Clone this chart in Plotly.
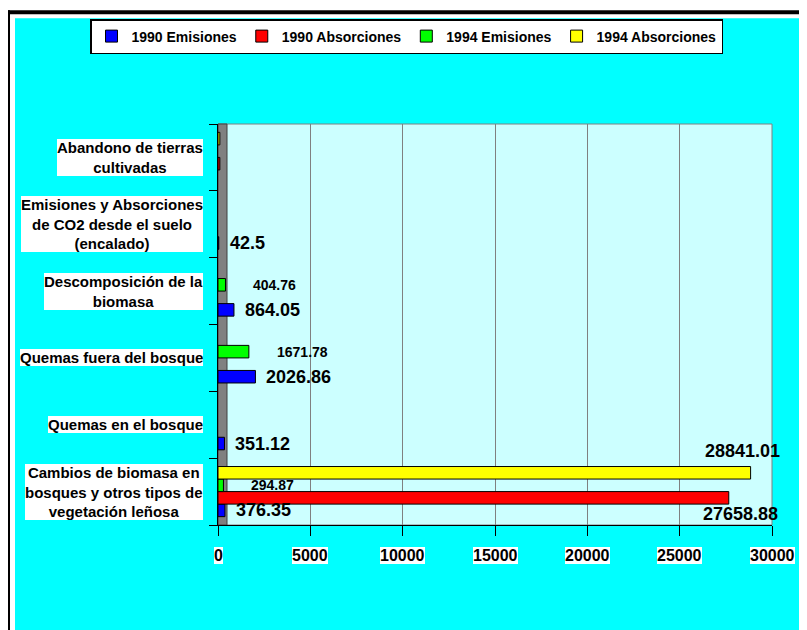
import plotly.graph_objects as go

# ---------------- data ----------------
categories = [
    "Cambios de biomasa en<br>bosques y otros tipos de<br>vegetación leñosa",
    "Quemas en el bosque",
    "Quemas fuera del bosque",
    "Descomposición de la<br>biomasa",
    "Emisiones y Absorciones<br>de CO2 desde el suelo<br>(encalado)",
    "Abandono de tierras<br>cultivadas",
]
series_names = ["1990 Emisiones", "1990 Absorciones", "1994 Emisiones", "1994 Absorciones"]
emis_1990 = [376.35, 351.12, 2026.86, 864.05, 42.5, None]
abs_1990 = [27658.88, None, None, None, None, 100]
emis_1994 = [294.87, None, 1671.78, 404.76, None, None]
abs_1994 = [28841.01, None, None, None, None, 100]
labelled = [True, True, True, True, True, False]
x_ticks = [0, 5000, 10000, 15000, 20000, 25000, 30000]

# ---------------- styling ----------------
W, H = 807, 630
OFF = 8  # page body margin: page pixel = figure pixel + OFF
# target plot area in page pixels
PL, PR, PT, PB = 218, 772, 123, 525
L, R, T, B = PL - OFF, PR - OFF, PT - OFF, PB - OFF
FONT = "Liberation Sans, Arial, sans-serif"
colors = ["#0000FF", "#FF0000", "#00FF00", "#FFFF00"]
label_style = [
    dict(size=18, xanchor="left", xshift=9, yshift=0),
    dict(size=18, xanchor="center", xshift=12, yshift=-16),
    dict(size=14, xanchor="left", xshift=26, yshift=0),
    dict(size=18, xanchor="center", xshift=-8, yshift=22),
]
BARGAP = 0.25


def xp(px):
    """page pixel x -> paper fraction"""
    return (px - OFF - L) / (R - L)


def yp(py):
    """page pixel y -> paper fraction"""
    return (B - (py - OFF)) / (B - T)


series_values = [emis_1990, abs_1990, emis_1994, abs_1994]

fig = go.Figure()
for name, vals, col in zip(series_names, series_values, colors):
    fig.add_trace(go.Bar(
        name=name, y=categories, x=vals, orientation="h",
        marker=dict(color=col, line=dict(color="black", width=1)),
        hoverinfo="x+name",
    ))

annotations = []
slot = (1 - BARGAP) / len(series_values)
for k, vals in enumerate(series_values):
    st = label_style[k]
    for i, v in enumerate(vals):
        if v is None or not labelled[i]:
            continue
        annotations.append(dict(
            x=v, y=i + (k - 1.5) * slot, xref="x", yref="y",
            text=str(v), showarrow=False,
            xanchor=st["xanchor"], yanchor="middle",
            xshift=st["xshift"], yshift=st["yshift"],
            font=dict(family=FONT, size=st["size"], color="black", weight="bold"),
        ))

# category labels (white background boxes)
for i, c in enumerate(categories):
    annotations.append(dict(
        x=xp(203), y=i, xref="paper", yref="y", text=c, showarrow=False,
        xanchor="right", yanchor="middle", align="center",
        bgcolor="white", borderpad=0, borderwidth=0,
        font=dict(family=FONT, size=15, color="black", weight="bold"),
    ))

# x tick labels (white background boxes)
for t in x_ticks:
    annotations.append(dict(
        x=t, y=yp(556), xref="x", yref="paper", text=str(t), showarrow=False,
        xanchor="center", yanchor="middle", bgcolor="white", borderpad=0, borderwidth=0,
        font=dict(family=FONT, size=16, color="black", weight="bold"),
    ))

shapes = [
    # white margin + black frame at top-left
    dict(type="rect", xref="paper", yref="paper", x0=xp(-20), x1=xp(W + 40), y0=yp(-20), y1=yp(17),
         fillcolor="white", line=dict(width=0), layer="below"),
    dict(type="rect", xref="paper", yref="paper", x0=xp(-20), x1=xp(15), y0=yp(-20), y1=yp(H + 40),
         fillcolor="white", line=dict(width=0), layer="below"),
    dict(type="rect", xref="paper", yref="paper", x0=xp(6), x1=xp(W + 40), y0=yp(9), y1=yp(13),
         fillcolor="black", line=dict(width=0), layer="below"),
    dict(type="rect", xref="paper", yref="paper", x0=xp(6), x1=xp(10), y0=yp(9), y1=yp(H + 40),
         fillcolor="black", line=dict(width=0), layer="below"),
    # wall border
    dict(type="rect", xref="x domain", yref="y domain", x0=0, x1=1, y0=0, y1=1,
         line=dict(color="#808080", width=1), layer="below"),
    # grey side wall
    dict(type="rect", xref="x domain", yref="y domain", x0=0, x1=9 / (R - L), y0=0, y1=1,
         fillcolor="#808080", line=dict(color="#404040", width=1), layer="below"),
]

fig.update_layout(
    width=W, height=H, autosize=False,
    margin=dict(l=L, r=W - R, t=T, b=H - B, pad=0),
    paper_bgcolor="#00FFFF", plot_bgcolor="#CCFFFF",
    barmode="group", bargap=BARGAP, bargroupgap=0,
    font=dict(family=FONT, color="black"),
    showlegend=True,
    legend=dict(
        orientation="h", xref="paper", yref="paper",
        x=xp(90), xanchor="left", y=yp(19), yanchor="top",
        bgcolor="white", bordercolor="black", borderwidth=1.5,
        font=dict(family=FONT, size=14, color="black", weight="bold"),
        traceorder="normal", itemclick=False, itemdoubleclick=False,
    ),
    xaxis=dict(
        range=[0, 30000], tickvals=x_ticks, showticklabels=False,
        ticks="outside", ticklen=10, tickcolor="black",
        showline=True, linecolor="black", linewidth=1,
        showgrid=True, gridcolor="#808080", gridwidth=1, zeroline=False,
        fixedrange=True,
    ),
    yaxis=dict(
        type="category", categoryorder="array", categoryarray=categories,
        range=[-0.5, 5.5], tickson="boundaries", ticks="outside", ticklen=8,
        tickcolor="black", showline=True, linecolor="black", linewidth=1,
        showticklabels=False, showgrid=False, zeroline=False, fixedrange=True,
    ),
    annotations=annotations,
    shapes=shapes,
)

fig.write_html("out.html")
